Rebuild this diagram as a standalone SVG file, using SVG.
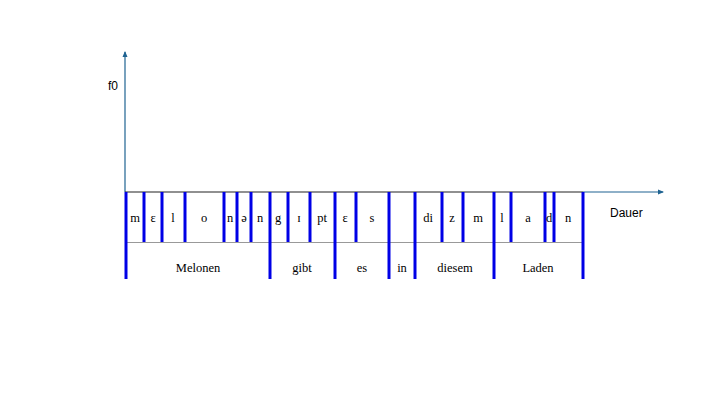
<svg xmlns="http://www.w3.org/2000/svg" width="720" height="405" viewBox="0 0 720 405">
<style>
.ax{stroke:#1f6391;stroke-width:1.2;fill:none}
.b{stroke:#0000e6;stroke-width:3}
.ph{font-family:"Liberation Serif",serif;font-size:12.5px;text-anchor:middle;fill:#000}
.wd{font-family:"Liberation Serif",serif;font-size:12.5px;text-anchor:middle;fill:#000}
.lbl{font-family:"Liberation Sans",sans-serif;font-size:12px;fill:#000}
</style>
<defs>
<marker id="ah" markerWidth="6" markerHeight="6" refX="5" refY="3" orient="auto" markerUnits="userSpaceOnUse">
<path d="M0,0.5 L6,3 L0,5.5 Z" fill="#1f6391"/>
</marker>
</defs>
<rect width="720" height="405" fill="#fff"/>
<g id="axes">
<line class="ax" x1="125" y1="192" x2="125" y2="52" marker-end="url(#ah)"/>
<line class="ax" x1="583" y1="192" x2="663" y2="192" marker-end="url(#ah)"/>
<text class="lbl" x="108" y="90">f0</text>
<text class="lbl" x="610" y="217">Dauer</text>
</g>
<g id="box">
<line x1="125" y1="192" x2="583" y2="192" stroke="#222" stroke-width="1.2"/>
<line x1="125" y1="242.5" x2="583" y2="242.5" stroke="#999" stroke-width="1"/>
</g>
<g id="connectors">
<g class="b">
<line x1="126" y1="192" x2="126" y2="279"/>
<line x1="144" y1="192" x2="144" y2="242"/>
<line x1="162" y1="192" x2="162" y2="242"/>
<line x1="185" y1="192" x2="185" y2="242"/>
<line x1="224" y1="192" x2="224" y2="242"/>
<line x1="237" y1="192" x2="237" y2="242"/>
<line x1="251" y1="192" x2="251" y2="242"/>
<line x1="270" y1="192" x2="270" y2="279"/>
<line x1="288" y1="192" x2="288" y2="242"/>
<line x1="310" y1="192" x2="310" y2="242"/>
<line x1="335" y1="192" x2="335" y2="279"/>
<line x1="356" y1="192" x2="356" y2="242"/>
<line x1="389" y1="192" x2="389" y2="279"/>
<line x1="415" y1="192" x2="415" y2="279"/>
<line x1="442" y1="192" x2="442" y2="242"/>
<line x1="463" y1="192" x2="463" y2="242"/>
<line x1="494" y1="192" x2="494" y2="279"/>
<line x1="511" y1="192" x2="511" y2="242"/>
<line x1="545" y1="192" x2="545" y2="242"/>
<line x1="554" y1="192" x2="554" y2="242"/>
<line x1="583" y1="192" x2="583" y2="279"/>
</g>
</g>
<g id="phonemes">
<text class="ph" x="135" y="222">m</text>
<text class="ph" x="153" y="222">ɛ</text>
<text class="ph" x="173" y="222">l</text>
<text class="ph" x="204" y="222">o</text>
<text class="ph" x="230" y="222">n</text>
<text class="ph" x="244" y="222">ə</text>
<text class="ph" x="260" y="222">n</text>
<text class="ph" x="278" y="222">g</text>
<text class="ph" x="299" y="222">ɪ</text>
<text class="ph" x="322" y="222">pt</text>
<text class="ph" x="345" y="222">ɛ</text>
<text class="ph" x="372" y="222">s</text>
<text class="ph" x="428" y="222">di</text>
<text class="ph" x="452" y="222">z</text>
<text class="ph" x="478" y="222">m</text>
<text class="ph" x="502" y="222">l</text>
<text class="ph" x="528" y="222">a</text>
<text class="ph" x="549" y="222">d</text>
<text class="ph" x="568" y="222">n</text>
</g>
<g id="words">
<text class="wd" x="198" y="272">Melonen</text>
<text class="wd" x="302" y="272">gibt</text>
<text class="wd" x="362" y="272">es</text>
<text class="wd" x="402" y="272">in</text>
<text class="wd" x="455" y="272">diesem</text>
<text class="wd" x="538" y="272">Laden</text>
</g>
</svg>
